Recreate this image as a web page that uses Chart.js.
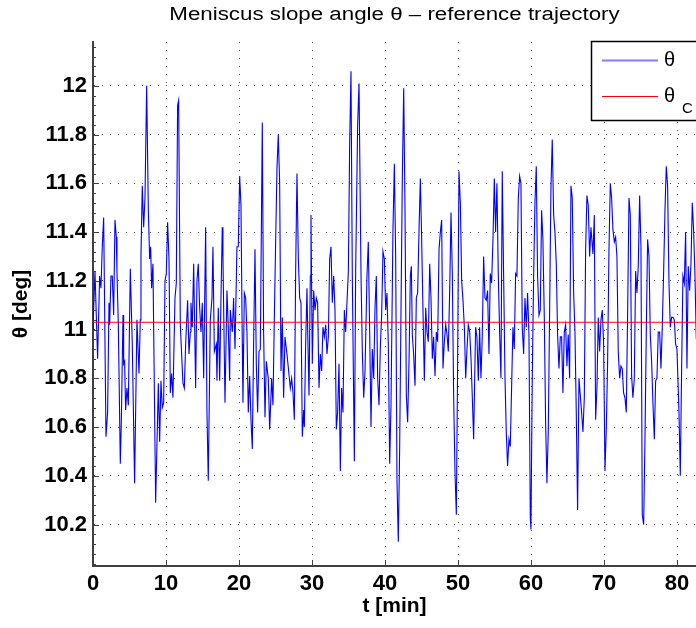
<!DOCTYPE html>
<html>
<head>
<meta charset="utf-8">
<script src="https://cdn.jsdelivr.net/npm/chart.js@4"></script>
<style>
  html, body { margin: 0; padding: 0; background: #fff; overflow: hidden; }
  #wrap { width: 696px; height: 628px; }
</style>
</head>
<body>
<div id="wrap"><canvas id="thetaChart" width="696" height="628"></canvas></div>
<script>
// time axis [min]
const tMin = [
  0, 0.27, 0.63, 0.91, 1.09, 1.27, 1.46, 1.78, 2.00, 2.19,
  2.28, 2.46, 2.64, 2.83, 3.01, 3.19, 3.28, 3.47, 3.74, 3.88,
  4.11, 4.20, 4.33, 4.47, 4.65, 4.84, 5.11, 5.38, 5.70, 6.02,
  6.30, 6.48, 6.57, 6.75, 6.94, 7.12, 7.35, 7.58, 7.76, 7.90,
  8.03, 8.21, 8.58, 8.95, 9.13, 9.31, 9.49, 9.68, 9.86, 10.04,
  10.22, 10.41, 10.59, 10.77, 10.95, 11.23, 11.41, 11.59, 11.73, 11.96,
  12.32, 12.51, 12.69, 12.96, 13.15, 13.33, 13.42, 13.60, 13.79, 14.06,
  14.24, 14.42, 14.61, 14.79, 14.97, 15.16, 15.43, 15.61, 15.79, 16.07,
  16.30, 16.43, 16.62, 16.89, 16.98, 17.16, 17.35, 17.53, 17.71, 17.80,
  18.08, 18.35, 18.53, 18.72, 18.81, 19.08, 19.26, 19.45, 19.72, 19.90,
  20.09, 20.27, 20.45, 20.54, 20.73, 20.91, 21.09, 21.27, 21.46, 21.64,
  21.82, 22.00, 22.19, 22.37, 22.55, 22.74, 22.92, 23.19, 23.37, 23.56,
  23.74, 24.01, 24.20, 24.47, 24.65, 24.84, 25.02, 25.20, 25.38, 25.57,
  25.75, 25.93, 26.11, 26.30, 26.57,
  27.03, 27.21, 27.40, 27.58, 27.76, 27.94, 28.13, 28.31, 28.49, 28.67,
  28.86, 28.95, 29.13, 29.31, 29.40, 29.59, 29.77, 29.86, 30.04, 30.23,
  30.41, 30.59, 30.77, 30.96, 31.14, 31.32, 31.50, 31.69, 31.87, 32.05,
  32.24, 32.42, 32.60, 32.78, 32.97, 33.15, 33.33, 33.51, 33.70, 33.88,
  34.06, 34.24, 34.43, 34.61, 34.79, 34.98, 35.16, 35.34, 35.52, 35.80,
  35.98, 36.25, 36.44, 36.71, 36.89, 37.08, 37.26, 37.53, 37.71, 37.90,
  38.08, 38.26, 38.45, 38.63, 38.81, 38.99, 39.18, 39.36, 39.54, 39.72,
  39.91, 40.09, 40.27, 40.45, 40.64, 40.82, 41.09, 41.28, 41.46, 41.64,
  41.82, 42.01, 42.19, 42.37, 42.56, 42.74, 42.92, 43.10, 43.29, 43.47,
  43.61, 43.74, 43.92, 44.11, 44.29, 44.47, 44.66, 44.84, 45.02, 45.20,
  45.39, 45.57, 45.75, 45.93, 46.12, 46.30, 46.48, 46.66, 46.85, 47.03,
  47.21, 47.40, 47.58, 47.76, 47.94, 48.13, 48.31, 48.49, 48.67, 48.86,
  49.04, 49.22, 49.40, 49.59, 49.77, 49.95, 50.13, 50.32, 50.50, 50.68,
  50.87, 51.05, 51.23, 51.41, 51.60, 51.78, 51.96, 52.14,
  52.41, 52.59, 52.78, 52.96, 53.14, 53.32, 53.51, 53.69, 53.87, 54.05,
  54.24, 54.42, 54.60, 54.79, 54.97, 55.15, 55.33, 55.52, 55.70, 55.88,
  56.06, 56.25, 56.43, 56.61, 56.79, 56.98, 57.16, 57.34, 57.52, 57.71,
  57.89, 58.07, 58.26, 58.44, 58.62, 58.80, 58.99, 59.17, 59.35, 59.53,
  59.72, 59.90, 59.99, 60.17, 60.36, 60.54, 60.72, 60.90, 61.09, 61.27,
  61.45, 61.63, 61.82, 62.00, 62.18, 62.37, 62.55, 62.73, 62.91, 63.10,
  63.28, 63.46, 63.64, 63.83, 64.01, 64.19, 64.37, 64.56, 64.74, 64.92,
  65.10, 65.29, 65.47, 65.65, 65.84, 66.02, 66.20, 66.38, 66.57, 66.75,
  66.93, 67.11, 67.30, 67.48, 67.66, 67.84, 68.03, 68.21, 68.48, 68.67,
  68.85, 69.03, 69.21, 69.40, 69.58, 69.76, 69.95, 70.13, 70.31, 70.49,
  70.68, 70.86, 71.04, 71.22, 71.41, 71.59, 71.77, 71.95, 72.14, 72.32,
  72.50, 72.68, 72.87, 73.05, 73.23, 73.42, 73.60, 73.78, 73.96, 74.15,
  74.33, 74.51, 74.69, 74.88, 75.06, 75.24, 75.43, 75.61, 75.79, 75.97,
  76.16, 76.34, 76.52, 76.70, 76.89, 77.07, 77.25, 77.43, 77.62, 77.80,
  77.98, 78.16, 78.35, 78.53, 78.71, 78.90, 79.08, 79.26, 79.44, 79.63,
  79.81, 79.99, 80.27, 80.45, 80.63, 80.81, 81.00, 81.18, 81.36, 81.54,
  81.73, 81.91, 82.09, 82.27, 82.46, 82.64
];

// meniscus slope angle [deg]
const theta = [
  11.00, 11.24, 10.88, 11.22, 11.17, 11.34, 11.46, 10.56, 10.66, 11.11,
  11.02, 11.22, 11.22, 11.06, 11.45, 11.38, 11.24, 11.02, 10.45, 10.62,
  11.06, 10.86, 10.87, 10.67, 10.76, 10.69, 11.25, 10.94, 10.37, 11.04,
  10.82, 11.04, 11.30, 11.59, 11.42, 11.54, 12.00, 11.49, 11.29, 11.34,
  11.17, 11.27, 10.29, 10.78, 10.54, 10.79, 10.68, 10.70, 11.20, 11.23,
  11.44, 11.29, 10.74, 10.82, 10.72, 11.13, 11.19, 11.92, 11.94, 11.02,
  10.78, 10.76, 10.94, 11.12, 10.90, 10.99, 11.11, 11.01, 11.27, 10.76,
  11.20, 11.27, 11.09, 10.99, 11.11, 10.80, 11.42, 10.66, 10.38, 11.04,
  11.13, 11.34, 10.91, 10.94, 10.79, 11.09, 10.79, 11.13, 11.42, 11.30,
  10.70, 11.16, 11.01, 10.79, 11.08, 10.99, 11.13, 10.92, 11.34, 11.34,
  11.63, 11.51, 10.94, 10.70, 11.15, 11.13, 10.99, 10.66, 10.81, 10.63,
  10.51, 10.94, 11.33, 10.86, 10.66, 10.91, 10.92, 11.85, 10.99, 10.64,
  10.87, 10.80, 10.59, 10.80, 10.69, 11.05, 11.36, 11.66, 11.80, 11.60,
  10.83, 11.05, 10.72, 10.97, 10.90,
  10.76, 10.80, 10.74, 10.63, 11.24, 11.64, 11.29, 11.13, 11.11, 10.56,
  10.67, 10.60, 10.94, 11.17, 11.01, 10.73, 11.22, 11.47, 10.86, 11.16,
  11.08, 11.13, 11.11, 10.76, 10.90, 10.83, 11.01, 10.97, 11.02, 10.90,
  10.97, 11.29, 11.34, 11.11, 11.22, 11.08, 10.59, 10.66, 10.86, 10.42,
  10.76, 10.66, 11.08, 10.99, 11.11, 11.24, 11.77, 12.06, 11.22, 10.46,
  11.24, 11.84, 12.01, 11.23, 10.91, 10.72, 10.83, 11.22, 11.36, 10.99,
  10.60, 10.92, 10.80, 11.09, 11.22, 10.80, 10.69, 10.93, 11.06, 11.32,
  11.29, 11.08, 11.15, 10.94, 10.45, 10.69, 11.41, 11.68, 11.30, 10.38,
  10.13, 10.52, 11.08, 11.62, 11.99, 11.49, 10.73, 10.62, 10.87, 11.22,
  11.26, 10.98, 10.90, 10.77, 11.13, 11.15, 11.41, 11.62, 11.37, 11.08,
  10.79, 11.09, 10.99, 10.95, 11.27, 11.13, 10.88, 10.97, 10.81, 10.99,
  10.95, 11.33, 11.40, 11.45, 10.84, 10.95, 11.02, 10.98, 10.91, 11.16,
  11.48, 11.23, 10.73, 10.41, 10.24, 10.87, 11.65, 11.52, 11.20, 11.12,
  11.01, 10.80, 10.92, 11.02, 10.99, 10.88, 10.72, 10.55,
  11.01, 10.97, 10.79, 11.01, 10.80, 10.97, 11.30, 11.13, 11.12, 11.16,
  10.90, 11.23, 11.19, 11.37, 11.62, 11.40, 11.60, 11.22, 10.99, 10.80,
  11.65, 11.22, 10.81, 10.58, 10.44, 10.55, 10.52, 10.76, 11.01, 10.92,
  11.23, 11.22, 11.54, 11.63, 11.60, 11.01, 10.90, 11.13, 11.01, 11.15,
  10.98, 10.23, 10.18, 10.80, 11.22, 11.52, 11.67, 11.22, 11.06, 11.08,
  11.49, 11.37, 11.05, 10.62, 10.37, 10.59, 11.08, 11.58, 11.78, 11.47,
  11.40, 11.27, 10.98, 10.84, 10.97, 10.97, 10.74, 10.99, 11.02, 10.85,
  10.98, 10.80, 11.59, 11.54, 11.15, 10.99, 10.66, 10.26, 10.80, 10.73,
  10.66, 10.58, 10.72, 11.33, 11.55, 11.51, 11.30, 11.42, 11.31, 11.47,
  10.63, 10.76, 11.05, 10.91, 11.04, 11.08, 10.94, 10.42, 10.59, 10.86,
  11.33, 11.60, 11.54, 11.41, 11.36, 11.38, 11.30, 10.91, 10.80, 10.85,
  10.84, 10.74, 10.72, 10.66, 11.06, 11.54, 11.47, 10.81, 10.72, 10.80,
  11.24, 11.15, 11.26, 11.55, 11.34, 10.24, 10.20, 10.55, 10.99, 11.37,
  11.30, 10.98, 10.87, 10.70, 10.55, 10.79, 10.80, 10.99, 10.99, 10.84,
  11.01, 11.23, 11.49, 11.67, 11.59, 11.19, 11.01, 11.05, 11.05, 11.04,
  10.94, 10.92, 10.66, 10.40, 10.84, 11.22, 11.19, 11.40, 10.84, 11.26,
  11.16, 11.27, 11.52, 11.41, 11.22, 10.96
];

// constant reference angle
const thetaC = 11.03;

const xLimits = [0, 82.6];
const yLimits = [10.03, 12.18];
const xTickStep = 10;
const yTickStep = 0.2;
const yMinorStep = 0.04;

const chartTitle = "Meniscus slope angle θ – reference trajectory";
const legendNames = ["θ", "θ"];
const legendSubs = ["", "C"];

const fontFamily = '"Liberation Sans", Arial, Helvetica, sans-serif';
const axisColour = "#404040";

// MATLAB style extras: stretched title, inward ticks and the boxed legend
const matlabLook = {
    id: "matlabLook",
    afterDraw(chart) {
        const { ctx, chartArea: area, scales: { x, y } } = chart;
        ctx.save();

        // title (the original font renders wider than Liberation Sans)
        ctx.save();
        ctx.translate((area.left + area.right) / 2, 20);
        ctx.scale(1.24, 1);
        ctx.fillStyle = "#000000";
        ctx.textAlign = "center";
        ctx.textBaseline = "alphabetic";
        ctx.font = "18px " + fontFamily;
        ctx.fillText(chartTitle, 0, 0);
        ctx.restore();

        ctx.strokeStyle = axisColour;
        ctx.lineWidth = 1;
        ctx.beginPath();
        y.ticks.forEach(tick => {
            const py = Math.round(y.getPixelForValue(tick.value)) + 0.5;
            ctx.moveTo(area.left, py);
            ctx.lineTo(area.left + 6, py);
        });
        for (let v = Math.ceil(yLimits[0] / yMinorStep) * yMinorStep; v <= yLimits[1]; v += yMinorStep) {
            const py = Math.round(y.getPixelForValue(v)) + 0.5;
            ctx.moveTo(area.left, py);
            ctx.lineTo(area.left + 3, py);
        }
        x.ticks.forEach(tick => {
            const px = Math.round(x.getPixelForValue(tick.value)) + 0.5;
            ctx.moveTo(px, area.bottom);
            ctx.lineTo(px, area.bottom - 6);
        });
        ctx.stroke();

        // legend box
        const boxLeft = area.right - 105;
        const boxTop = area.top - 1;
        ctx.fillStyle = "#ffffff";
        ctx.fillRect(boxLeft, boxTop, 120, 79);
        ctx.strokeStyle = "#000000";
        ctx.lineWidth = 1.5;
        ctx.strokeRect(boxLeft + 0.5, boxTop + 0.5, 120, 79);

        const rowsY = [boxTop + 19, boxTop + 55];
        chart.data.datasets.slice().reverse().forEach((ds, i) => {
            const ry = rowsY[i];
            ctx.strokeStyle = ds.legendColour;
            ctx.lineWidth = ds.legendWidth;
            ctx.beginPath();
            ctx.moveTo(boxLeft + 11, ry + 0.5);
            ctx.lineTo(boxLeft + 67, ry + 0.5);
            ctx.stroke();
            ctx.fillStyle = "#000000";
            ctx.textBaseline = "middle";
            ctx.textAlign = "left";
            ctx.font = "20px " + fontFamily;
            ctx.fillText(legendNames[i], boxLeft + 73, ry);
            if (legendSubs[i]) {
                ctx.font = "15px " + fontFamily;
                ctx.fillText(legendSubs[i], boxLeft + 91, ry + 13);
            }
        });

        ctx.restore();
    }
};

const ctx = document.getElementById("thetaChart").getContext("2d");
new Chart(ctx, {
    type: "line",
    data: {
        datasets: [
            {
                label: "θC",
                data: [{ x: xLimits[0], y: thetaC }, { x: xLimits[1], y: thetaC }],
                borderColor: "#ff0000",
                borderWidth: 1,
                pointRadius: 0,
                order: 0,
                legendColour: "#ff0000",
                legendWidth: 1
            },
            {
                label: "θ",
                data: tMin.map((t, i) => ({ x: t, y: theta[i] })),
                borderColor: "#0000ff",
                borderWidth: 1.1,
                pointRadius: 0,
                tension: 0,
                order: 1,
                legendColour: "#7f7fff",
                legendWidth: 2
            }
        ]
    },
    options: {
        responsive: false,
        animation: false,
        events: [],
        layout: { padding: { top: 42, right: 0, bottom: 0, left: 0 } },
        plugins: {
            legend: { display: false },
            tooltip: { enabled: false },
            title: { display: false }
        },
        scales: {
            x: {
                type: "linear",
                min: xLimits[0],
                max: xLimits[1],
                afterFit: scale => { scale.height = 62; },
                ticks: {
                    stepSize: xTickStep,
                    includeBounds: false,
                    maxRotation: 0,
                    autoSkip: false,
                    padding: 5,
                    color: "#000000",
                    font: { family: fontFamily, size: 22, weight: "bold" }
                },
                grid: { color: "#444444", lineWidth: 1, drawTicks: false },
                border: { display: true, color: axisColour, width: 2, dash: [1, 7] },
                title: {
                    display: true,
                    text: "t [min]",
                    color: "#000000",
                    font: { family: fontFamily, size: 21, weight: "bold", lineHeight: 1.2 },
                    padding: { top: 0, bottom: 9 }
                }
            },
            y: {
                type: "linear",
                min: yLimits[0],
                max: yLimits[1],
                afterFit: scale => { scale.width = 93; },
                ticks: {
                    stepSize: yTickStep,
                    includeBounds: false,
                    padding: 6,
                    color: "#000000",
                    font: { family: fontFamily, size: 22, weight: "bold" },
                    callback: v => String(Number(v.toFixed(1)))
                },
                grid: { color: "#444444", lineWidth: 1, drawTicks: false },
                border: { display: true, color: axisColour, width: 2, dash: [1, 7] },
                title: {
                    display: true,
                    text: "θ [deg]",
                    color: "#000000",
                    font: { family: fontFamily, size: 21, weight: "bold", lineHeight: 1.2 },
                    padding: { top: 9, bottom: 0 }
                }
            }
        }
    },
    plugins: [matlabLook]
});
</script>
</body>
</html>
